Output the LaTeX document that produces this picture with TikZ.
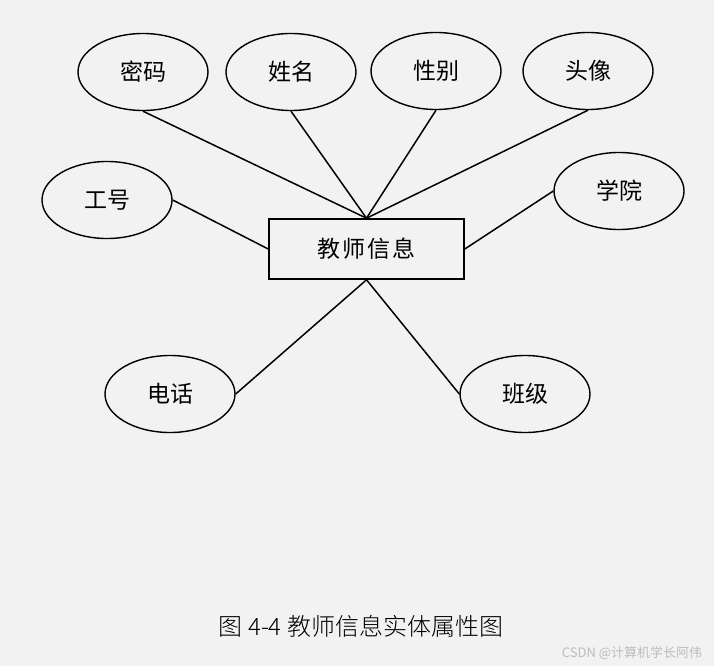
\documentclass[tikz,border=0pt]{standalone}
\usepackage{fontspec}
\usepackage{xcolor}
\usepackage{tikz}
\usetikzlibrary{positioning, shapes.geometric}
\newfontfamily\cjk{Noto Sans CJK SC}
\newfontfamily\cjklight{Noto Sans CJK SC Light}
\definecolor{paper}{HTML}{F2F2F2}
\definecolor{markgray}{HTML}{BDBDBD}

\begin{document}
\begin{tikzpicture}[
    x=1pt, y=-1pt,
    attr/.style={
        ellipse,
        draw,
        line width=1.4pt,
        minimum width=130pt,
        minimum height=77pt,
        inner sep=0pt,
        font=\cjk\fontsize{23}{26}\selectfont
    },
    entity/.style={
        rectangle,
        draw,
        line width=1.6pt,
        minimum width=195pt,
        minimum height=60pt,
        font=\cjk\fontsize{23}{26}\selectfont
    },
    link/.style={
        line width=1.5pt
    }
]

% Background
\fill[paper] (0,0) rectangle (714,666);
\useasboundingbox (0,0) rectangle (714,666);

% Entity

\node[entity] (teacher) at (366.5,249) {教\hspace{2pt}师\hspace{2pt}信\hspace{2pt}息};

% Attributes

\node[attr] (pwd) at (143,72) {密码};
\node[attr] (name) at (291,72) {姓名};
\node[attr] (sex) at (436,71) {性别};
\node[attr] (photo) at (588,71) {头像};

\node[attr] (id) at (107,200) {工号};
\node[attr] (school) at (619,191) {学院};

\node[attr] (phone) at (170,394) {电话};
\node[attr] (class) at (525,394) {班级};


% Links

\draw[link] (teacher.north)--(pwd.south);
\draw[link] (teacher.north)--(name.south);
\draw[link] (teacher.north)--(sex.south);
\draw[link] (teacher.north)--(photo.south);

\draw[link] (id.east)--(teacher.west);
\draw[link] (teacher.east)--(school.west);

\draw[link] (phone.east)--(teacher.south);
\draw[link] (class.west)--(teacher.south);


% Caption

\node[font=\cjklight\fontsize{24}{28}\selectfont] (caption) at (361,626) {图 4-4 教师信息实体属性图};

\node[text=markgray, font=\cjk\fontsize{13}{15}\selectfont] (watermark) at (632,653) {CSDN @计算机学长阿伟};

\end{tikzpicture}
\end{document}
